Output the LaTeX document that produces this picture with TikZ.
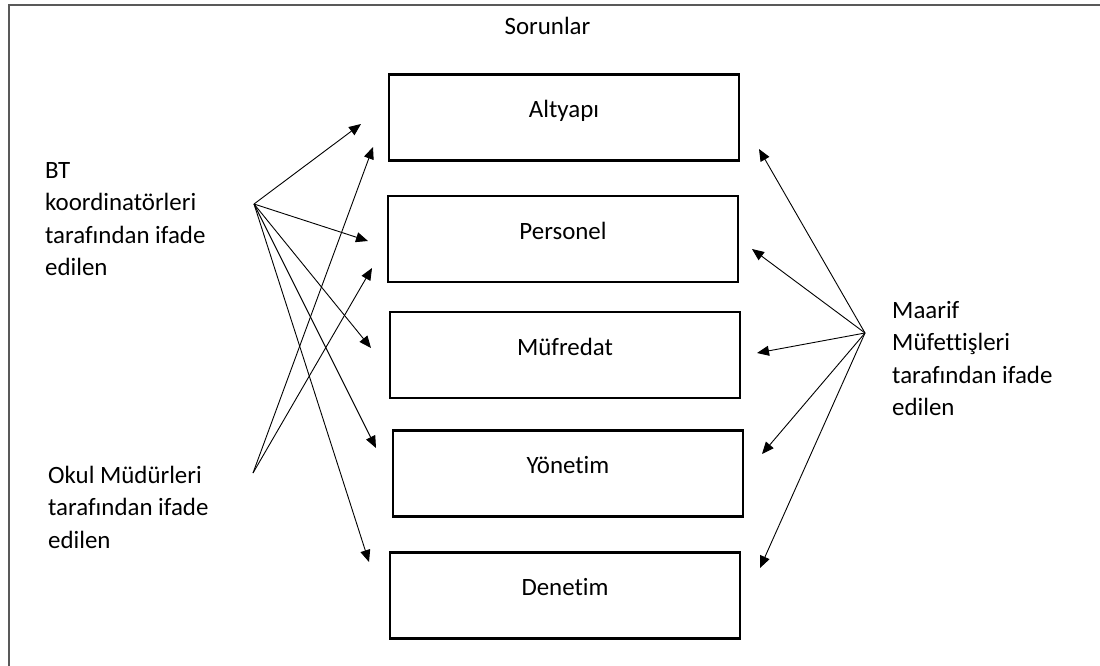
\documentclass[tikz,border=0pt]{standalone}
\usepackage{fontspec}
\setmainfont{Carlito}[Ligatures={NoCommon}]
\usetikzlibrary{arrows.meta}

\begin{document}
\begin{tikzpicture}
                [x=1pt, y=-1pt,
                every node/.style={font=\fontsize{24.9}{32.5}\selectfont, text=black},
                bsty/.style={rectangle, draw=black, line width=2.6pt, minimum width=350pt, minimum height=86pt, inner sep=0pt, text height=12pt, text depth=12pt},
                lsty/.style={align=left, inner sep=0pt, anchor=north west},
                asty/.style={-{Triangle[length=12pt, width=10pt]}, line width=0.9pt}]
                \useasboundingbox (0,0) rectangle (1100,666);
                \clip (0,0) rectangle (1100,666);
                % frame
                \draw[black!65, line width=1.4pt] (9,5) rectangle (1130,700);
                \node (sorunlar) at (547.5,35) [anchor=base] {Sorunlar};
                % problem boxes
                \node[bsty] (altyapi) at (564,117.5) {Altyapı};
                \node[bsty] (personel) at (563,239) {Personel};
                \node[bsty] (mufredat) at (565,355) {Müfredat};
                \node[bsty] (yonetim) at (568,473.5) {Yönetim};
                \node[bsty] (denetim) at (565,595.5) {Denetim};
                % groups
                \node[lsty] (btlabel) at (45,162) {BT\\koordinatörleri\\tarafından ifade\\edilen};
                \node[lsty] (okullabel) at (48,466) {Okul Müdürleri\\tarafından ifade\\edilen};
                \node[lsty] (maariflabel) at (892,301) {Maarif\\Müfettişleri\\tarafından ifade\\edilen};
                \coordinate (bt) at (254,204);
                \coordinate (okul) at (253,473);
                \coordinate (maarif) at (865,333);
                % arrow tips left of the boxes
                \coordinate (bt-alt) at (361,124);
                \coordinate (bt-per) at (368,241);
                \coordinate (bt-muf) at (371,348);
                \coordinate (bt-yon) at (376,448);
                \coordinate (bt-den) at (369,562);
                \coordinate (okul-alt) at (373,147);
                \coordinate (okul-per) at (372,268);
                % arrow tips right of the boxes
                \coordinate (maarif-alt) at (759,149);
                \coordinate (maarif-per) at (752,249);
                \coordinate (maarif-muf) at (757,353);
                \coordinate (maarif-yon) at (762,454);
                \coordinate (maarif-den) at (760,568);
                % BT koordinatorleri
                \draw[asty] (bt) -- (bt-alt);
                \draw[asty] (bt) -- (bt-per);
                \draw[asty] (bt) -- (bt-muf);
                \draw[asty] (bt) -- (bt-yon);
                \draw[asty] (bt) -- (bt-den);
                % okul mudurleri
                \draw[asty] (okul) -- (okul-alt);
                \draw[asty] (okul) -- (okul-per);
                % maarif mufettisleri
                \draw[asty] (maarif) -- (maarif-alt);
                \draw[asty] (maarif) -- (maarif-per);
                \draw[asty] (maarif) -- (maarif-muf);
                \draw[asty] (maarif) -- (maarif-yon);
                \draw[asty] (maarif) -- (maarif-den);
            \end{tikzpicture}
\end{document}
